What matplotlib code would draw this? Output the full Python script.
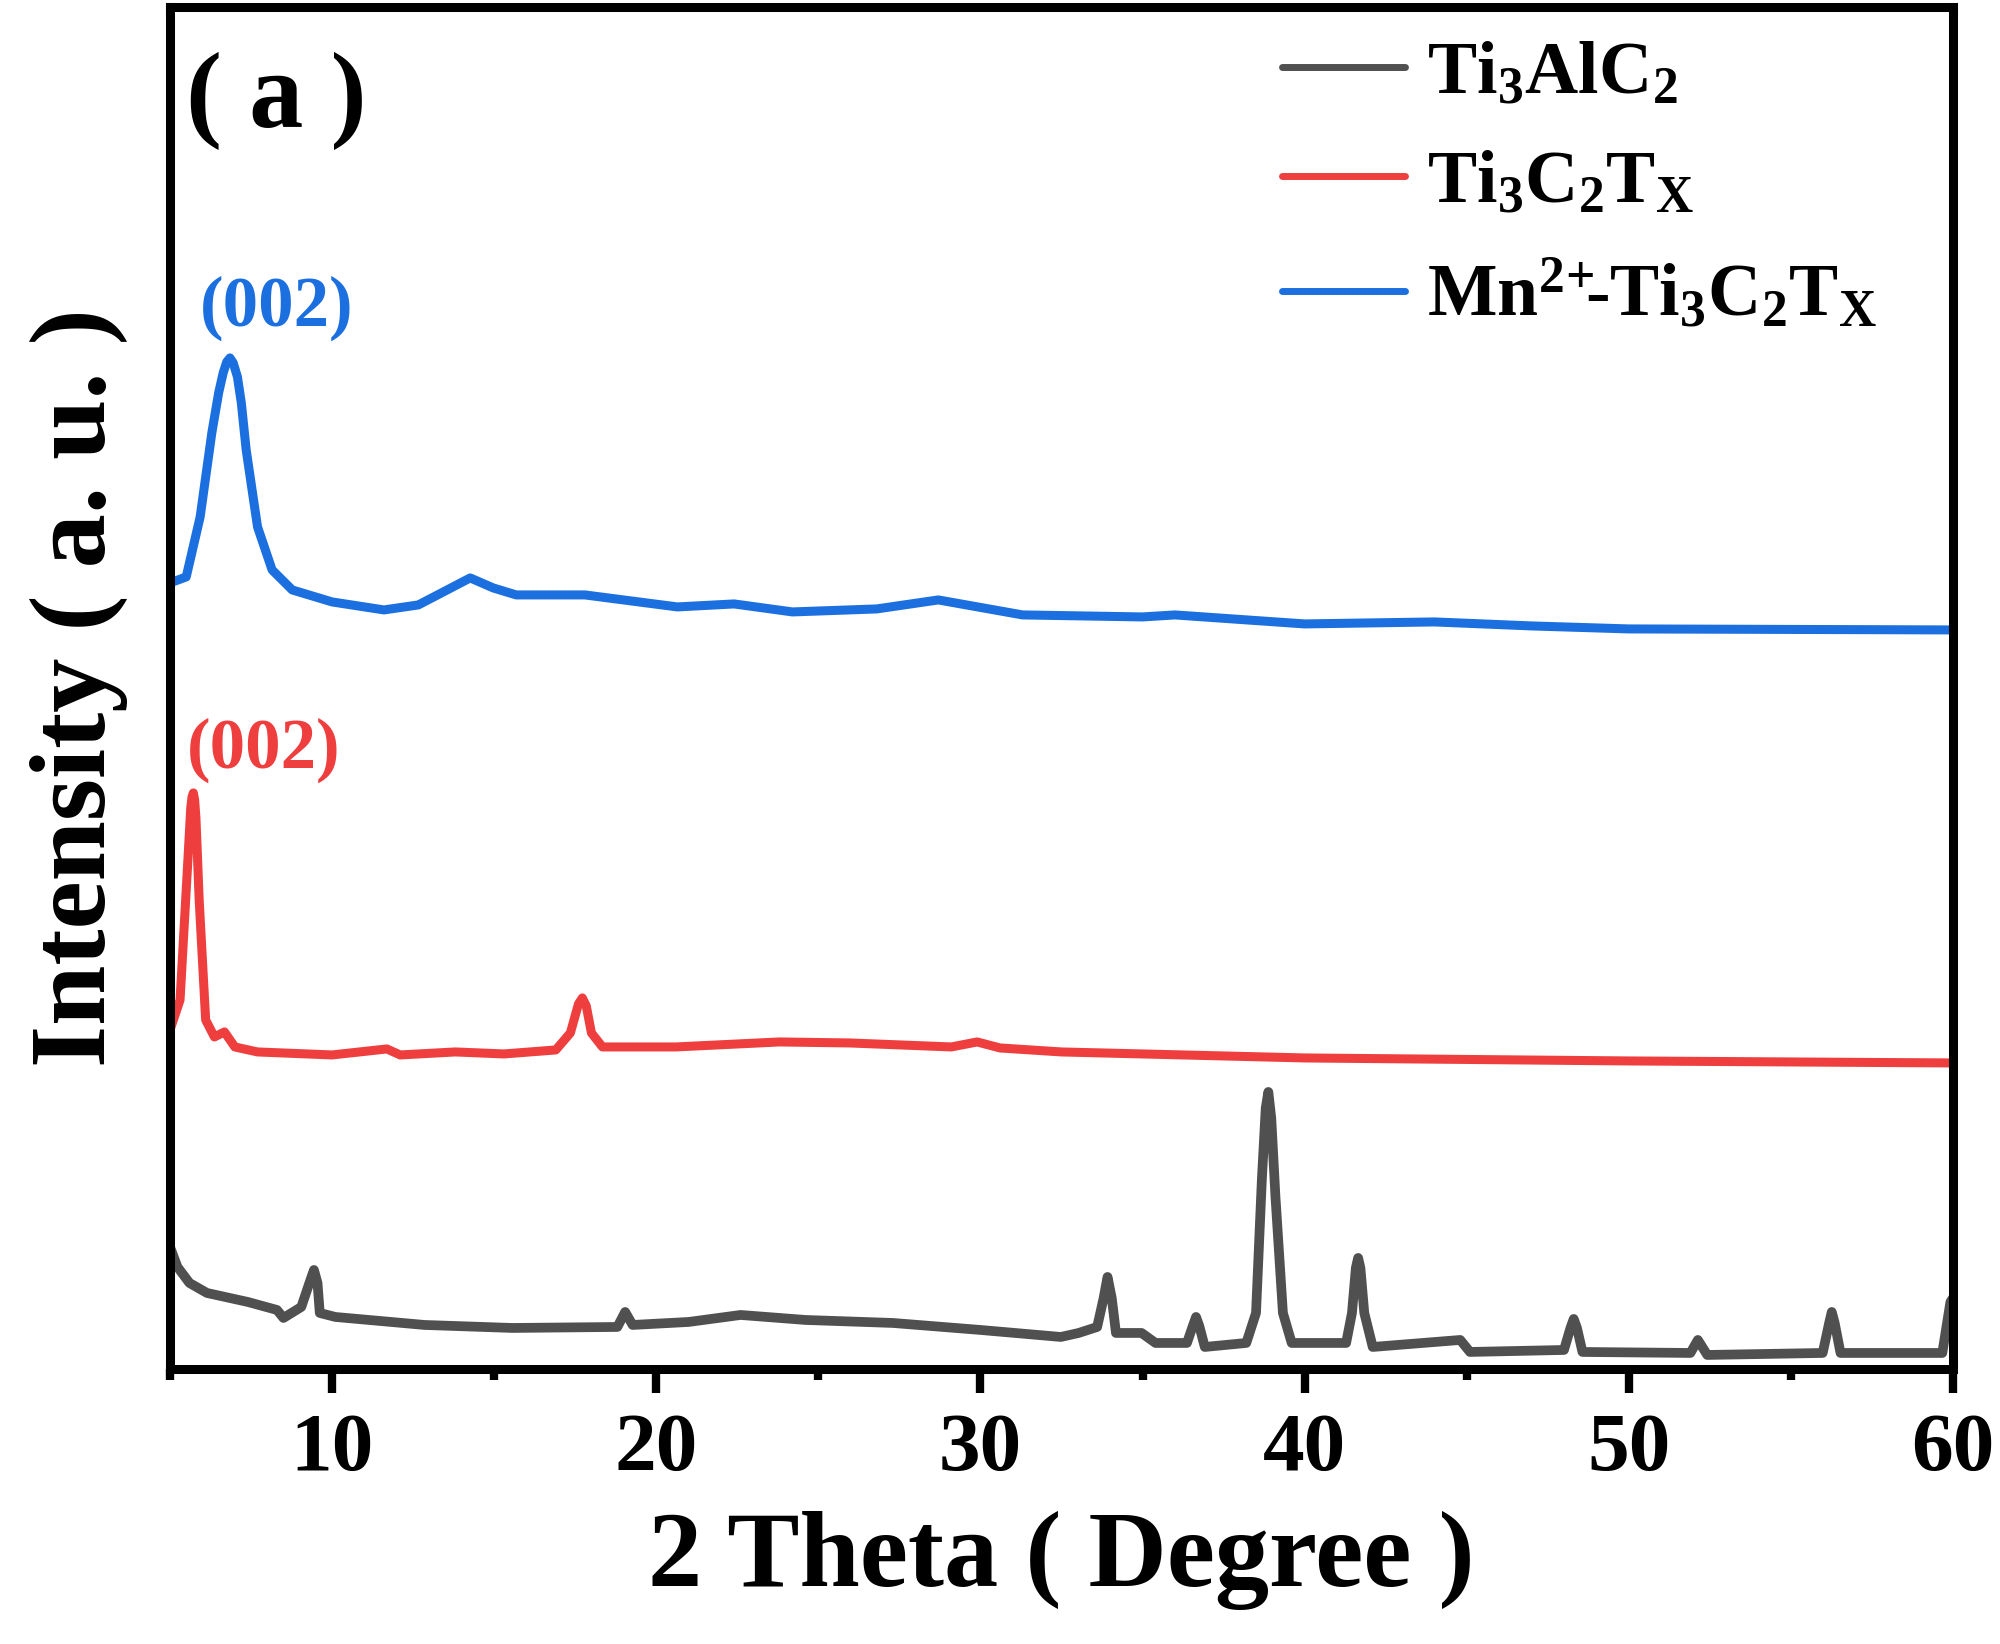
import matplotlib
matplotlib.use("Agg")
import matplotlib.pyplot as plt
from matplotlib.ticker import MultipleLocator

# 2 theta (degree) and intensity (a.u., curves already offset)
theta_ti3alc2 = [5.0, 5.23, 5.6, 6.14, 7.4, 8.3, 8.5, 9.05, 9.3, 9.44,
                 9.55, 9.62, 10.1, 12.85, 15.56, 18.8, 19.04, 19.27, 21.0, 22.6,
                 24.6, 27.3, 30.0, 32.48, 33.03, 33.6, 33.8, 33.92, 34.05, 34.18,
                 34.97, 35.4, 36.37, 36.55, 36.65, 36.75, 36.92, 38.2, 38.5, 38.68,
                 38.8, 38.88, 38.97, 39.1, 39.33, 39.6, 41.28, 41.46, 41.58, 41.65,
                 41.72, 41.84, 42.1, 44.8, 45.1, 48.0, 48.2, 48.3, 48.4, 48.57,
                 51.9, 52.13, 52.42, 55.98, 56.18, 56.26, 56.35, 56.53, 59.67, 59.92,
                 60.0]
int_ti3alc2 = [131, 111, 95, 85, 76, 68, 60, 71, 95, 108,
               95, 65, 61, 53, 50, 51, 66, 53, 56, 63,
               58, 55, 48, 41, 45, 51, 80, 101, 80, 45,
               45, 35, 35, 52, 61, 52, 31, 35, 65, 198,
               270, 286, 260, 181, 65, 35, 35, 65, 110, 120,
               110, 65, 31, 38, 26, 28, 50, 59, 50, 26,
               25, 38, 23, 25, 55, 66, 55, 25, 25, 76,
               80]

theta_ti3c2tx = [5.0, 5.31, 5.54, 5.64, 5.68, 5.72, 5.76, 5.8, 5.9, 6.1,
                 6.37, 6.68, 7.0, 7.7, 10.0, 11.69, 12.1, 13.8, 15.3, 16.9,
                 17.35, 17.6, 17.72, 17.84, 18.0, 18.34, 20.6, 23.8, 25.96, 29.1,
                 29.9, 30.6, 32.5, 40.0, 50.0, 60.0]
int_ti3c2tx = [348, 378, 511, 570, 581, 585, 578, 560, 478, 358,
               341, 346, 331, 326, 323, 329, 323, 326, 324, 328,
               345, 374, 380, 372, 345, 331, 331, 336, 335, 331,
               336, 330, 326, 320, 317, 315]

theta_mn = [5.0, 5.5, 5.93, 6.29, 6.5, 6.64, 6.75, 6.85, 6.95, 7.08,
            7.2, 7.35, 7.7, 8.15, 8.77, 10.0, 11.6, 12.66, 13.55, 14.26,
            14.97, 15.68, 17.8, 20.65, 22.4, 24.2, 26.8, 28.7, 31.3, 35.0,
            36.0, 40.0, 44.0, 47.0, 50.0, 60.0]
int_mn = [795, 801, 861, 945, 985, 1005, 1016, 1020, 1015, 1001,
          975, 928, 851, 808, 788, 776, 768, 773, 788, 800,
          790, 783, 783, 771, 774, 766, 769, 778, 763, 761,
          763, 754, 756, 752, 749, 748]

labels = [r"Ti$_3$AlC$_2$", r"Ti$_3$C$_2$T$_X$", r"Mn$^{2\!+}\!\!$-Ti$_3$C$_2$T$_X$"]
colors = ["#505050", "#ee3e3e", "#1c6fdf"]

plt.rcParams["font.family"] = "Liberation Serif"
plt.rcParams["font.weight"] = "bold"
plt.rcParams["axes.labelweight"] = "bold"
plt.rcParams["mathtext.fontset"] = "custom"
plt.rcParams["mathtext.rm"] = "Liberation Serif:bold"
plt.rcParams["mathtext.bf"] = "Liberation Serif:bold"
plt.rcParams["mathtext.it"] = "Liberation Serif:bold:italic"
plt.rcParams["mathtext.default"] = "bf"

fig = plt.figure(figsize=(20, 16.44), dpi=100)
ax = fig.add_axes([0.085, 0.1673, 0.8915, 0.8285])

ax.plot(theta_ti3alc2, int_ti3alc2, color=colors[0], lw=7, label=labels[0], solid_joinstyle="round")
ax.plot(theta_ti3c2tx, int_ti3c2tx, color=colors[1], lw=6.5, label=labels[1], solid_joinstyle="round")
ax.plot(theta_mn, int_mn, color=colors[2], lw=6.5, label=labels[2], solid_joinstyle="round")

ax.text(8.3, 1052, "(002)", color=colors[2], fontsize=51, ha="center", va="baseline")
ax.text(7.88, 610, "(002)", color=colors[1], fontsize=51, ha="center", va="baseline")
ax.text(0.009, 0.912, "( a )", transform=ax.transAxes, fontsize=78, ha="left", va="baseline")

ax.set_xlim(5, 60)
ax.set_ylim(9, 1371)
ax.xaxis.set_major_locator(MultipleLocator(10))
ax.xaxis.set_minor_locator(MultipleLocator(5))
ax.set_yticks([])
ax.tick_params(axis="x", which="major", direction="out", length=17, width=6, labelsize=60, pad=15)
ax.tick_params(axis="x", which="minor", direction="out", length=8, width=6)
for sp in ax.spines.values():
    sp.set_linewidth(6.5)

ax.set_xlabel("2 Theta ( Degree )", fontsize=78, labelpad=16)
ax.set_ylabel("Intensity ( a. u. )", fontsize=78, labelpad=30)

leg = ax.legend(loc="upper left", bbox_to_anchor=(0.6237, 0.975), frameon=False, fontsize=53,
                handlelength=1.67, handletextpad=0.3, labelspacing=0.56, borderpad=0, borderaxespad=0)
for h in leg.get_lines():
    h.set_linewidth(5)
    h.set_solid_capstyle("round")

fig.savefig("out.png", dpi=100)
